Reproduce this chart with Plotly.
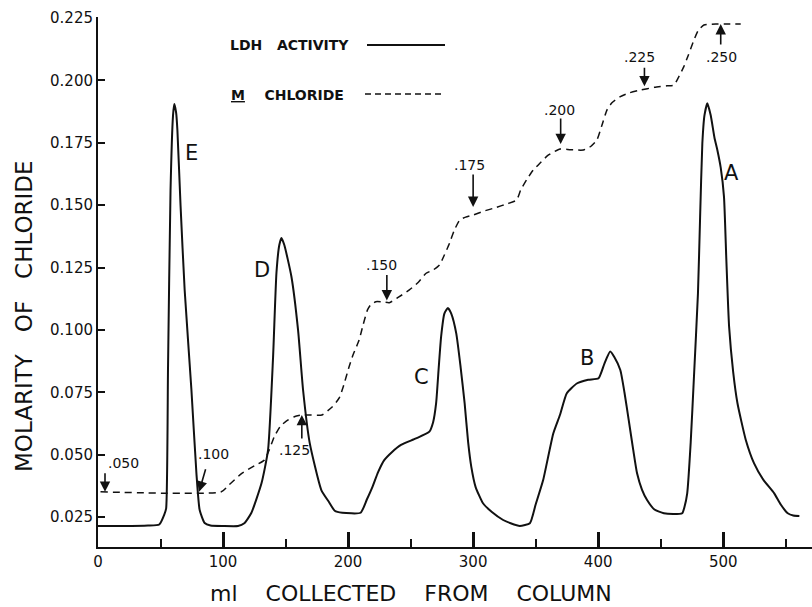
import numpy as np
import plotly.graph_objects as go

# Elution profile: volume collected (ml)
ldh_ml = [0, 20, 40, 49, 53, 54.5, 56, 58, 60, 61, 62.5, 63.5, 66, 69.3, 74.7, 78.7, 81.3, 85.3,
          90, 100, 112, 117, 122.6, 130.8, 136, 140, 142.7, 145, 146.7, 149, 154.7, 160, 164,
          169.3, 178.6, 184.7, 189.3, 195.4, 210, 215, 219.5, 224, 228.9, 235, 242.3, 254.3, 265,
          268, 270.4, 272.5, 274.4, 277, 279.8, 282.5, 286.5, 290, 293.2, 296, 298.5, 302, 307.9,
          315, 324, 330, 337.3, 345.4, 350, 356, 364.1, 369.5, 374.9, 382.9, 392, 400.3, 405,
          409.6, 413, 417.7, 421, 424.4, 428, 431.1, 435, 439.1, 445, 452.5, 460, 467.2, 469,
          471.2, 474, 476.6, 479.8, 481.5, 483.3, 485, 487.3, 490, 493, 495.3, 498, 500.6, 502.5,
          504.7, 508, 511.4, 518, 524.7, 532, 540.8, 546, 551.6, 556, 560.9]
# LDH activity, drawn on the molarity scale
ldh_act = [0.0214, 0.0214, 0.0216, 0.0220, 0.0260, 0.0285, 0.085, 0.156, 0.186, 0.1905, 0.187,
           0.180, 0.150, 0.116, 0.076, 0.0426, 0.0278, 0.0226, 0.0216, 0.0214, 0.0214, 0.0225,
           0.0266, 0.0386, 0.0519, 0.089, 0.1228, 0.1340, 0.1368, 0.1340, 0.1213, 0.0999, 0.0759,
           0.0547, 0.0358, 0.031, 0.0275, 0.0267, 0.0267, 0.032, 0.0371, 0.043, 0.0478, 0.051,
           0.0539, 0.0565, 0.0592, 0.063, 0.0706, 0.085, 0.0973, 0.1065, 0.1088, 0.1065, 0.0986,
           0.085, 0.0706, 0.055, 0.0452, 0.037, 0.0305, 0.027, 0.0238, 0.0225, 0.0214, 0.0225,
           0.030, 0.0398, 0.0585, 0.066, 0.0746, 0.0785, 0.0800, 0.0806, 0.0865, 0.0913, 0.089,
           0.0839, 0.075, 0.0639, 0.052, 0.0425, 0.036, 0.0318, 0.028, 0.0265, 0.0262, 0.0265,
           0.029, 0.0345, 0.055, 0.0812, 0.1147, 0.145, 0.1748, 0.186, 0.1908, 0.186, 0.177,
           0.1721, 0.165, 0.1534, 0.128, 0.1013, 0.083, 0.0706, 0.056, 0.0465, 0.040, 0.0345,
           0.030, 0.0265, 0.0256, 0.0254]

cl_ml = [2, 98.6, 105, 115, 125, 133, 137, 141, 146, 152, 157, 163, 170, 179, 187, 192.8, 196,
         200.8, 204, 208.8, 212, 215.5, 218, 222.2, 228, 233, 240, 249, 256, 262.4, 268, 273.1,
         277, 281.1, 285, 289.2, 294, 299.8, 308, 318.6, 327, 334.7, 338, 342.7, 348, 353.4, 360,
         369.5, 378, 388.2, 394, 399, 403, 407, 411, 417.7, 425, 433.7, 445, 455, 460.5, 464,
         468.5, 472, 476.6, 480, 484.6, 495, 505, 514]
cl_molarity = [0.0351, 0.0351, 0.038, 0.0425, 0.0455, 0.0478, 0.052, 0.0572, 0.0615, 0.0639,
               0.0652, 0.0659, 0.0659, 0.0659, 0.069, 0.0726, 0.077, 0.0852, 0.090, 0.0959,
               0.102, 0.108, 0.110, 0.1113, 0.1112, 0.1109, 0.113, 0.116, 0.119, 0.1227, 0.124,
               0.126, 0.130, 0.1347, 0.140, 0.144, 0.1452, 0.146, 0.1475, 0.1491, 0.1505, 0.152,
               0.156, 0.1601, 0.164, 0.1668, 0.170, 0.1725, 0.1722, 0.1721, 0.1735, 0.1761, 0.182,
               0.1881, 0.191, 0.1935, 0.195, 0.1961, 0.1972, 0.1978, 0.1981, 0.201, 0.2055, 0.210,
               0.2162, 0.220, 0.2222, 0.2226, 0.2226, 0.2226]

# Gradient step markers along the chloride curve
step_ml = [5.6, 80.8, 163, 231, 300, 370, 437, 498]
step_labels = [".050", ".100", ".125", ".150", ".175", ".200", ".225", ".250"]

# Peak names and label anchors
peak_names = ["E", "D", "C", "B", "A"]
peak_ml = [75, 131, 259, 391, 507]
peak_y = [0.1709, 0.124, 0.0811, 0.0887, 0.1629]

y_ticks = [0.025, 0.050, 0.075, 0.100, 0.125, 0.150, 0.175, 0.200, 0.225]
y_ticktext = ["0.025", "0.050", "0.075", "0.100", "0.125", "0.150", "0.175", "0.200", "0.225"]
x_ticks = [0, 100, 200, 300, 400, 500]

FONT = "DejaVu Sans"
INK = "#111111"
SP = "\u00a0"

# figure size and plot-area margins (px)
W, H = 812, 607
ML, MR, MT, MB = 98, 0, 17, 60
PW, PH = W - ML - MR, H - MT - MB


def px(xp):
    """Figure pixel column -> paper x."""
    return (xp - ML) / PW


def py(yp):
    """Figure pixel row (from top) -> paper y."""
    return (H - MB - yp) / PH


fig = go.Figure()
fig.add_trace(go.Scatter(x=ldh_ml, y=ldh_act, mode="lines", name="LDH ACTIVITY",
                         line=dict(color=INK, width=2, shape="spline", smoothing=0.5),
                         showlegend=False))
fig.add_trace(go.Scatter(x=cl_ml, y=cl_molarity, mode="lines", name="M CHLORIDE",
                         line=dict(color=INK, width=1.5, dash="7px,5px", shape="spline",
                                   smoothing=0.5),
                         showlegend=False))

# arrow tail offsets (px) and label offsets (px) for each step marker
arrow_tail = [(0, -20), (7, -24), (0, 25), (0, -29), (0, -42), (0, -32), (0, -23), (0, 22)]
arrow_standoff = [0, 0, 0, 2, 8, 5, 3, 0]
label_shift = [(18, 29), (14, 38), (-7, -35), (-5, 37), (-4, 50), (-1, 39), (-5, 32), (1, -33)]

annotations = []
for i, (m, lab) in enumerate(zip(step_ml, step_labels)):
    yv = float(np.interp(m, cl_ml, cl_molarity))
    annotations.append(dict(x=m, y=yv, xref="x", yref="y", text="", showarrow=True,
                            ax=arrow_tail[i][0], ay=arrow_tail[i][1], arrowhead=2,
                            arrowsize=1.3, arrowwidth=1.6, arrowcolor=INK,
                            standoff=arrow_standoff[i]))
    annotations.append(dict(x=m, y=yv, xref="x", yref="y", text=lab, showarrow=False,
                            xshift=label_shift[i][0], yshift=label_shift[i][1],
                            font=dict(family=FONT, size=14, color=INK)))

for name, m, yv in zip(peak_names, peak_ml, peak_y):
    annotations.append(dict(x=m, y=yv, xref="x", yref="y", text=name, showarrow=False,
                            font=dict(family=FONT, size=21, color=INK)))

# legend block
annotations.append(dict(x=px(228), y=py(45), xref="paper", yref="paper",
                        text="<b>LDH" + SP * 3 + "ACTIVITY</b>", showarrow=False,
                        xanchor="left", yanchor="middle",
                        font=dict(family=FONT, size=14, color=INK)))
annotations.append(dict(x=px(229), y=py(95), xref="paper", yref="paper",
                        text="<b><u>M</u>" + SP * 4 + "CHLORIDE</b>", showarrow=False,
                        xanchor="left", yanchor="middle",
                        font=dict(family=FONT, size=14, color=INK)))

# axis titles
annotations.append(dict(x=px(24), y=py(316), xref="paper", yref="paper",
                        xanchor="center", yanchor="middle",
                        text="MOLARITY" + SP * 3 + "OF" + SP * 3 + "CHLORIDE", textangle=-90,
                        showarrow=False, font=dict(family=FONT, size=23, color=INK)))
annotations.append(dict(x=px(411), y=py(593), xref="paper", yref="paper",
                        xanchor="center", yanchor="middle",
                        text="ml" + SP * 4 + "COLLECTED" + SP * 4 + "FROM" + SP * 4 + "COLUMN",
                        showarrow=False, font=dict(family=FONT, size=22, color=INK)))

shapes = [
    dict(type="line", xref="paper", yref="paper", x0=px(367), x1=px(445),
         y0=py(45), y1=py(45), line=dict(color=INK, width=2)),
    dict(type="line", xref="paper", yref="paper", x0=px(365), x1=px(443),
         y0=py(94), y1=py(94), line=dict(color=INK, width=1.5, dash="6px,4px")),
]

fig.update_layout(
    width=W, height=H,
    margin=dict(l=ML, r=MR, t=MT, b=MB),
    paper_bgcolor="white", plot_bgcolor="white",
    annotations=annotations, shapes=shapes,
    xaxis=dict(range=[0, 571], tickvals=x_ticks, ticks="inside", ticklen=15, tickwidth=3,
               tickcolor=INK, showline=True, linecolor=INK, linewidth=2, showgrid=False,
               zeroline=False, tickfont=dict(family=FONT, size=15, color=INK),
               minor=dict(dtick=50, tick0=0, ticks="inside", ticklen=8, tickwidth=1.5,
                          tickcolor=INK, showgrid=False)),
    yaxis=dict(range=[0.01298, 0.2254], tickvals=y_ticks, ticktext=y_ticktext,
               ticks="inside", ticklen=7, tickwidth=2, tickcolor=INK, showline=True,
               linecolor=INK, linewidth=2, showgrid=False, zeroline=False,
               tickfont=dict(family=FONT, size=15, color=INK)),
)

fig.write_html("out.html")
